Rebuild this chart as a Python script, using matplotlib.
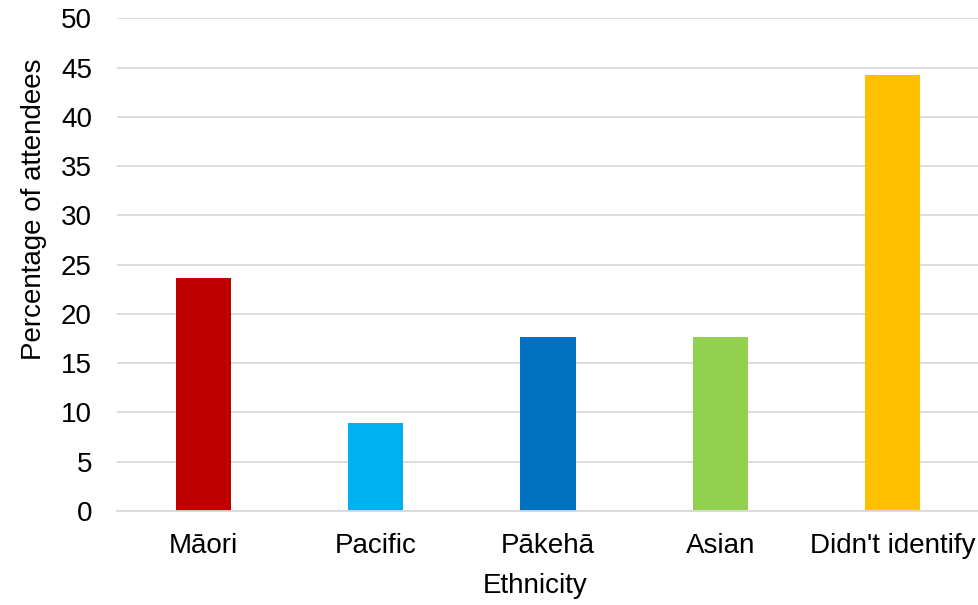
import matplotlib
matplotlib.use("Agg")
import matplotlib.pyplot as plt

plt.rcParams['font.family'] = ['Liberation Sans', 'DejaVu Sans']

# data
categories = ["Māori", "Pacific", "Pākehā", "Asian", "Didn't identify"]
values = [23.6, 8.9, 17.7, 17.7, 44.2]
colors = ["#C00000", "#00B0F0", "#0070C0", "#92D050", "#FFC000"]
yticks = [0, 5, 10, 15, 20, 25, 30, 35, 40, 45, 50]

W, H = 979, 605
fig = plt.figure(figsize=(W / 100, H / 100), dpi=100)
ax = fig.add_axes([117 / W, 1 - 511 / H, 862 / W, (511 - 18.3) / H])

x = range(len(categories))
ax.bar(x, values, width=0.32, color=colors, zorder=3)

ax.set_xlim(-0.5, len(categories) - 0.5)
ax.set_ylim(0, 50)
ax.set_yticks(yticks)
ax.set_xticks(list(x))
ax.set_xticklabels(categories)
ax.yaxis.grid(True, color="#D9D9D9", linewidth=1.3, zorder=0)
ax.set_axisbelow(True)

for s in ["top", "right", "left"]:
    ax.spines[s].set_visible(False)
ax.spines["bottom"].set_color("#D9D9D9")
ax.spines["bottom"].set_linewidth(1.3)
ax.spines["bottom"].set_zorder(4)

ax.tick_params(axis="y", length=0, pad=18, labelsize=20, labelcolor="black")
ax.tick_params(axis="x", length=0, pad=15.5, labelsize=20, labelcolor="black")

ax.set_xlabel("Ethnicity", fontsize=20)
ax.set_ylabel("Percentage of attendees", fontsize=20)
# label positions as in the reference (not centred on the axes)
ax.xaxis.set_label_coords(0.485, -0.126)
ax.yaxis.set_label_coords(-0.0812, 0.613)

fig.savefig("out.png", dpi=100)
